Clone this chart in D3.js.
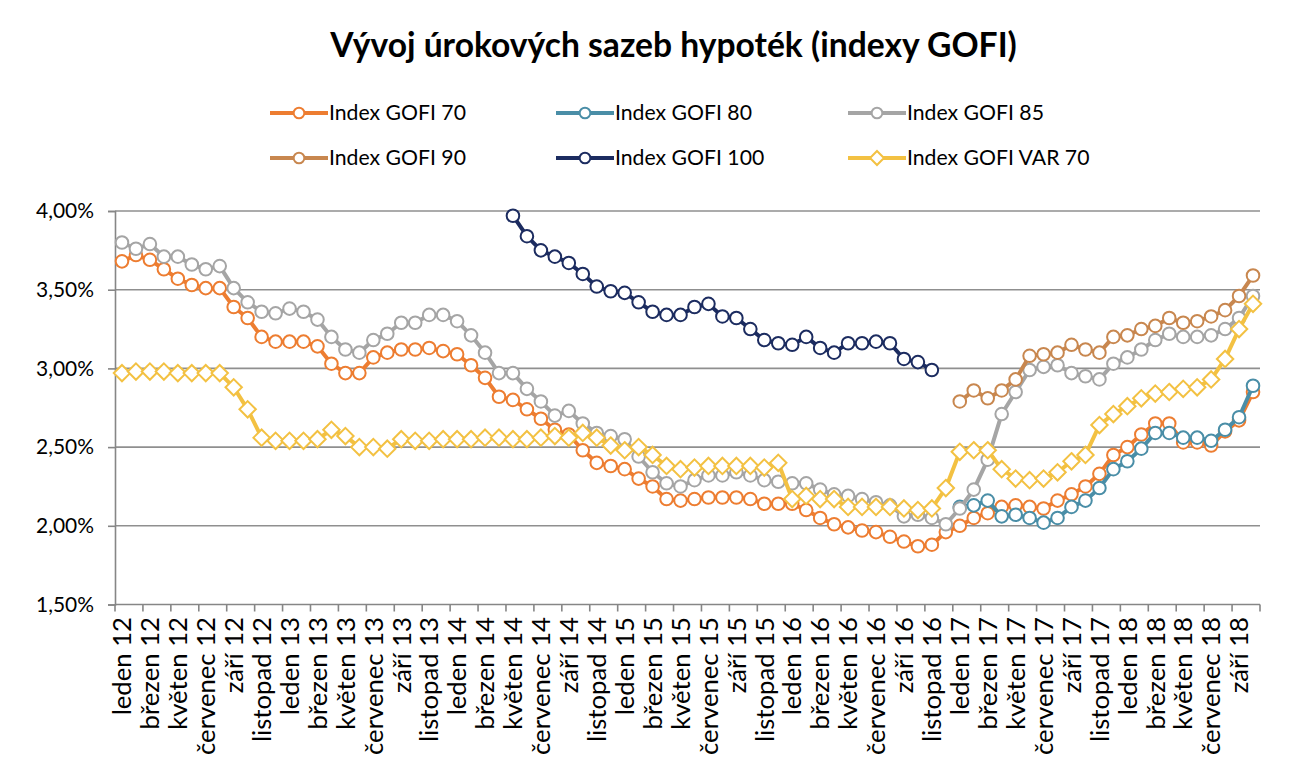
<!DOCTYPE html>
<html><head><meta charset="utf-8">
<script src="https://cdn.jsdelivr.net/npm/d3@7"></script>
<style>
body{margin:0;background:#fff}
svg{display:block}
</style>
</head><body>
<svg id="chart" width="1298" height="772"></svg>
<script>
// ---------- DATA ----------
const monthNames = ["leden","únor","březen","duben","květen","červen","červenec","srpen","září","říjen","listopad","prosinec"];
const years = ["12","13","14","15","16","17","18"];
const categories = [];
years.forEach(y => monthNames.forEach(m => categories.push(m + " " + y)));
categories.splice(82); // leden 12 .. říjen 18

const yTicks = [1.5, 2.0, 2.5, 3.0, 3.5, 4.0];

const seriesNames = ["Index GOFI 70","Index GOFI 80","Index GOFI 85","Index GOFI 90","Index GOFI 100","Index GOFI VAR 70"];

const gofi70 = [3.68,3.72,3.69,3.63,3.57,3.53,3.51,3.51,3.39,3.32,3.20,3.17,3.17,3.17,
  3.14,3.03,2.97,2.97,3.07,3.10,3.12,3.12,3.13,3.11,3.09,3.02,2.94,2.82,
  2.80,2.74,2.68,2.61,2.58,2.48,2.40,2.38,2.36,2.30,2.25,2.17,2.16,2.17,
  2.18,2.18,2.18,2.17,2.14,2.14,2.14,2.10,2.05,2.01,1.99,1.97,1.96,1.93,
  1.90,1.87,1.88,1.96,2.00,2.05,2.08,2.12,2.13,2.12,2.11,2.16,2.20,2.25,
  2.33,2.45,2.50,2.58,2.65,2.65,2.53,2.53,2.51,2.60,2.67,2.85];

const gofi80 = Array(60).fill(null).concat([2.12,2.13,2.16,2.06,2.07,2.05,2.02,2.05,2.12,2.16,
  2.24,2.36,2.41,2.49,2.59,2.59,2.56,2.56,2.54,2.61,2.69,2.89]);

const gofi85 = [3.80,3.76,3.79,3.71,3.71,3.66,3.63,3.65,3.51,3.42,3.36,3.35,3.38,3.36,
  3.31,3.20,3.12,3.10,3.18,3.22,3.29,3.29,3.34,3.34,3.30,3.21,3.10,2.97,
  2.97,2.87,2.79,2.70,2.73,2.65,2.59,2.57,2.55,2.44,2.34,2.27,2.25,2.29,
  2.32,2.32,2.34,2.32,2.29,2.28,2.27,2.27,2.23,2.20,2.19,2.17,2.15,2.13,
  2.06,2.07,2.05,2.01,2.11,2.23,2.42,2.71,2.85,2.99,3.01,3.02,2.97,2.95,
  2.93,3.03,3.07,3.12,3.18,3.22,3.20,3.20,3.21,3.25,3.32,3.46];

const gofi90 = Array(60).fill(null).concat([2.79,2.86,2.81,2.86,2.93,3.08,3.09,3.10,3.15,3.12,
  3.10,3.20,3.21,3.25,3.27,3.32,3.29,3.30,3.33,3.37,3.46,3.59]);

const gofi100 = Array(28).fill(null).concat([3.97,3.84,3.75,3.71,3.67,3.60,3.52,3.49,3.48,3.42,
  3.36,3.34,3.34,3.39,3.41,3.33,3.32,3.25,3.18,3.16,3.15,3.20,3.13,3.10,
  3.16,3.16,3.17,3.16,3.06,3.04,2.99], Array(23).fill(null));

const gofiVar70 = [2.97,2.98,2.98,2.98,2.97,2.97,2.97,2.97,2.88,2.74,2.56,2.54,2.54,2.54,
  2.55,2.61,2.57,2.50,2.50,2.49,2.55,2.54,2.54,2.55,2.55,2.55,2.56,2.56,
  2.55,2.55,2.56,2.57,2.56,2.59,2.56,2.51,2.48,2.50,2.45,2.38,2.36,2.37,
  2.38,2.38,2.38,2.38,2.37,2.40,2.17,2.19,2.17,2.17,2.12,2.12,2.12,2.12,
  2.11,2.10,2.11,2.24,2.47,2.48,2.48,2.36,2.30,2.29,2.30,2.34,2.41,2.45,
  2.64,2.71,2.76,2.81,2.84,2.85,2.87,2.88,2.93,3.06,3.25,3.41];

const seriesValues = [gofi70, gofi80, gofi85, gofi90, gofi100, gofiVar70];
const seriesColors = ["#ED7D31","#4A8EA7","#A5A5A5","#C8874F","#1C2C60","#F3C142"];
const seriesMarkers = ["circle","circle","circle","circle","circle","diamond"];

// ---------- LAYOUT ----------
const FONT = "Lato, 'Open Sans', sans-serif";
const svg = d3.select("#chart");
const plotL = 115, plotR = 1260, plotT = 211, plotB = 604.5;

function fit(str, weight, target) {
  const t = svg.append("text").attr("font-family", FONT).attr("font-weight", weight)
    .attr("font-size", 100).text(str);
  const w = t.node().getComputedTextLength();
  t.remove();
  return 100 * target / w;
}

const x = d3.scaleBand().domain(d3.range(categories.length)).range([plotL, plotR]);
const y = d3.scaleLinear().domain([1.5, 4.0]).range([plotB, plotT]);

// title
const titleText = "Vývoj úrokových sazeb hypoték (indexy GOFI)";
svg.append("text").attr("x", 673.5).attr("y", 57)
  .attr("text-anchor", "middle").attr("font-family", FONT).attr("font-weight", 700)
  .attr("font-size", fit(titleText, 700, 687)).attr("fill", "#000").text(titleText);

// gridlines
svg.append("g").selectAll("line").data(yTicks.slice(1)).join("line")
  .attr("x1", plotL).attr("x2", plotR)
  .attr("y1", d => y(d)).attr("y2", d => y(d))
  .attr("stroke", "#8F8F8F").attr("stroke-width", 1.6);

// y axis
const yFmt = d => d3.format(".2f")(d).replace(".", ",") + "%";
const yAxis = svg.append("g").attr("transform", `translate(${plotL},0)`)
  .call(d3.axisLeft(y).tickValues(yTicks).tickFormat(yFmt).tickSize(7).tickPadding(14));
yAxis.select(".domain").attr("stroke", "#868686").attr("stroke-width", 1.6);
yAxis.selectAll(".tick line").attr("stroke", "#868686").attr("stroke-width", 1.6);
const ySize = fit("1,50%", 400, 58);
yAxis.selectAll(".tick text").attr("font-family", FONT).attr("font-size", ySize).attr("fill", "#000");

// x axis line and ticks
svg.append("line").attr("x1", plotL).attr("x2", plotR).attr("y1", plotB).attr("y2", plotB)
  .attr("stroke", "#868686").attr("stroke-width", 1.6);
const tickIdx = d3.range(0, categories.length, 2);
svg.append("g").selectAll("line").data(tickIdx.concat([categories.length])).join("line")
  .attr("x1", d => d < categories.length ? x(d) : plotR)
  .attr("x2", d => d < categories.length ? x(d) : plotR)
  .attr("y1", plotB).attr("y2", plotB + 7)
  .attr("stroke", "#868686").attr("stroke-width", 1.6);

const xSize = fit("červenec 12", 400, 138);
svg.append("g").selectAll("text").data(tickIdx).join("text")
  .attr("transform", d => `translate(${x(d) + x.bandwidth() / 2},617) rotate(-90)`)
  .attr("text-anchor", "end").attr("dy", "0.36em")
  .attr("font-family", FONT).attr("font-size", xSize).attr("fill", "#000")
  .text(d => categories[d]);

// series
function drawMarker(g, kind, color, cx, cy, scale) {
  if (kind === "circle") {
    g.append("circle").attr("cx", cx).attr("cy", cy).attr("r", 6.3 * scale)
      .attr("fill", "#fff").attr("stroke", color).attr("stroke-width", 2);
  } else {
    const s = 8.2 * scale;
    g.append("path").attr("d", `M${cx},${cy - s}L${cx + s},${cy}L${cx},${cy + s}L${cx - s},${cy}Z`)
      .attr("fill", "#fff").attr("stroke", color).attr("stroke-width", 2);
  }
}

const line = d3.line().defined(d => d.v != null)
  .x(d => x(d.i) + x.bandwidth() / 2).y(d => y(d.v));

seriesValues.forEach((vals, k) => {
  const g = svg.append("g");
  const pts = vals.map((v, i) => ({ i, v }));
  g.append("path").attr("d", line(pts)).attr("fill", "none")
    .attr("stroke", seriesColors[k]).attr("stroke-width", 4).attr("stroke-linejoin", "round");
  pts.filter(p => p.v != null).forEach(p =>
    drawMarker(g, seriesMarkers[k], seriesColors[k], x(p.i) + x.bandwidth() / 2, y(p.v), 1));
});

// legend
const legendPos = [[270, 113], [556, 113], [848, 113], [270, 158], [556, 158], [848, 158]];
const legSize = fit("Index GOFI 70", 400, 137);
seriesNames.forEach((name, k) => {
  const [lx, ly] = legendPos[k];
  const g = svg.append("g");
  g.append("line").attr("x1", lx).attr("x2", lx + 58).attr("y1", ly).attr("y2", ly)
    .attr("stroke", seriesColors[k]).attr("stroke-width", 4);
  drawMarker(g, seriesMarkers[k], seriesColors[k], lx + 29, ly, 0.85);
  g.append("text").attr("x", lx + 59).attr("y", ly).attr("dy", "0.35em")
    .attr("font-family", FONT).attr("font-size", legSize).attr("fill", "#000").text(name);
});
</script>
</body></html>
